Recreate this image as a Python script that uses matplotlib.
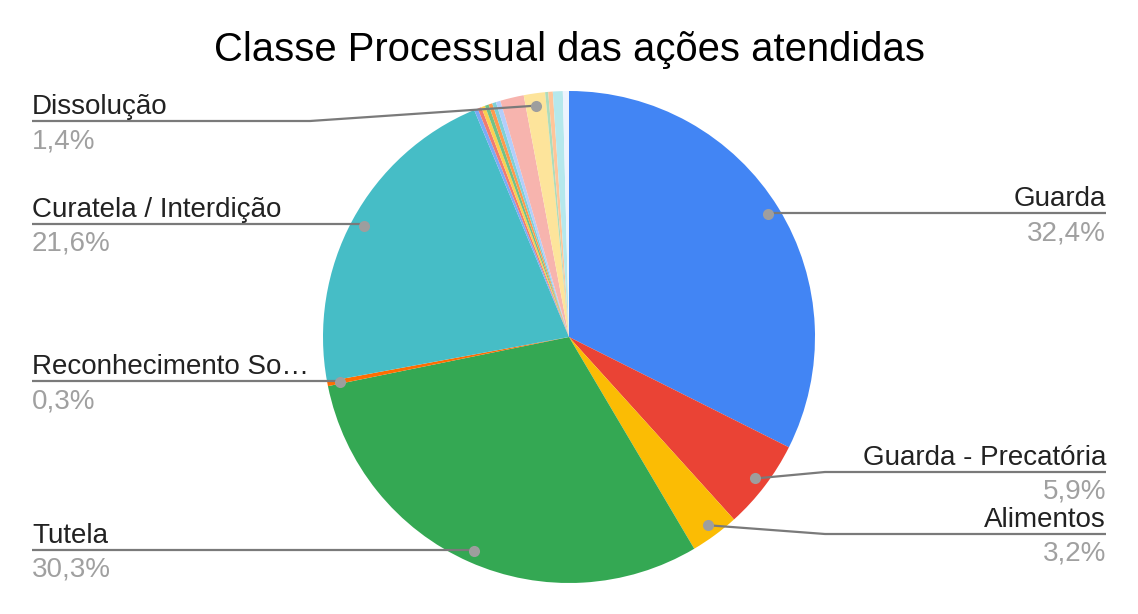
import numpy as np
import matplotlib
matplotlib.use("Agg")
import matplotlib.pyplot as plt

plt.rcParams['font.family'] = ['Liberation Sans', 'DejaVu Sans']

# slice data, in drawing order (clockwise from 12 o'clock)
categories = ["Guarda", "Guarda - Precatória", "Alimentos", "Tutela",
              "Reconhecimento So…", "Curatela / Interdição",
              "Outra 1", "Outra 2", "Outra 3", "Outra 4", "Outra 5", "Outra 6",
              "Outra 7", "Outra 8", "Dissolução",
              "Outra 9", "Outra 10", "Outra 11", "Outra 12"]
values = [32.4, 5.9, 3.2, 30.3, 0.3, 21.6,
          0.25, 0.25, 0.25, 0.25, 0.25, 0.25, 0.3, 1.55, 1.4,
          0.2, 0.3, 0.65, 0.4]
pct_labels = ["32,4%", "5,9%", "3,2%", "30,3%", "0,3%", "21,6%", "1,4%"]

colors = ["#4285F4", "#EA4335", "#FBBC04", "#34A853", "#FF6D01", "#46BDC6",
          "#7BAAF7", "#F07B72", "#FCD04F", "#71C287", "#FF994D", "#7ED1D7",
          "#B3CEFB", "#F7B4AE", "#FDE49B", "#AEDCBA", "#FFC599", "#B5E8EC",
          "#ECF3FE"]

W, H = 1138, 614
cx, cy, R = 569, 337, 246

fig = plt.figure(figsize=(W / 100, H / 100), dpi=100)
ax = fig.add_axes([0, 0, 1, 1])
wedges, _ = ax.pie(values, colors=colors, startangle=90, counterclock=False,
                   center=(cx, H - cy), radius=R,
                   wedgeprops=dict(linewidth=0))
ax.set_xlim(0, W)
ax.set_ylim(0, H)
ax.axis('off')

fig.text(0.5, 1 - 50 / H, "Classe Processual das ações atendidas",
         ha='center', va='center', fontsize=28.8, color='#000000')

# label layout: (slice index, side, leader line y in px, elbow x in px or None)
layout = [(0, 'right', 213, None),
          (1, 'right', 472, 825),
          (2, 'right', 534, 825),
          (3, 'left', 550, None),
          (4, 'left', 381, None),
          (5, 'left', 224, None),
          (14, 'left', 121, 310)]

line_col = '#7a7a7a'
for (idx, side, ly, ex), pct in zip(layout, pct_labels):
    w = wedges[idx]
    mid = np.deg2rad((w.theta1 + w.theta2) / 2)
    dx = cx + 0.95 * R * np.cos(mid)
    dy = (H - cy) + 0.95 * R * np.sin(mid)
    ly_d = H - ly
    if ex is None:
        ex = dx
    end_x = 1106 if side == 'right' else 32
    ax.plot([dx, ex, end_x], [dy, ly_d, ly_d], color=line_col, lw=1.6,
            solid_capstyle='butt', zorder=3)
    ax.plot(dx, dy, 'o', ms=8, color='#9e9e9e', mec='none', zorder=4)
    ha = 'right' if side == 'right' else 'left'
    ax.text(end_x, ly_d + 7, categories[idx], ha=ha, va='baseline',
            fontsize=20, color='#222222')
    ax.text(end_x, ly_d - 27, pct, ha=ha, va='baseline',
            fontsize=20, color='#a0a0a0')

fig.savefig("out.png", dpi=100)
